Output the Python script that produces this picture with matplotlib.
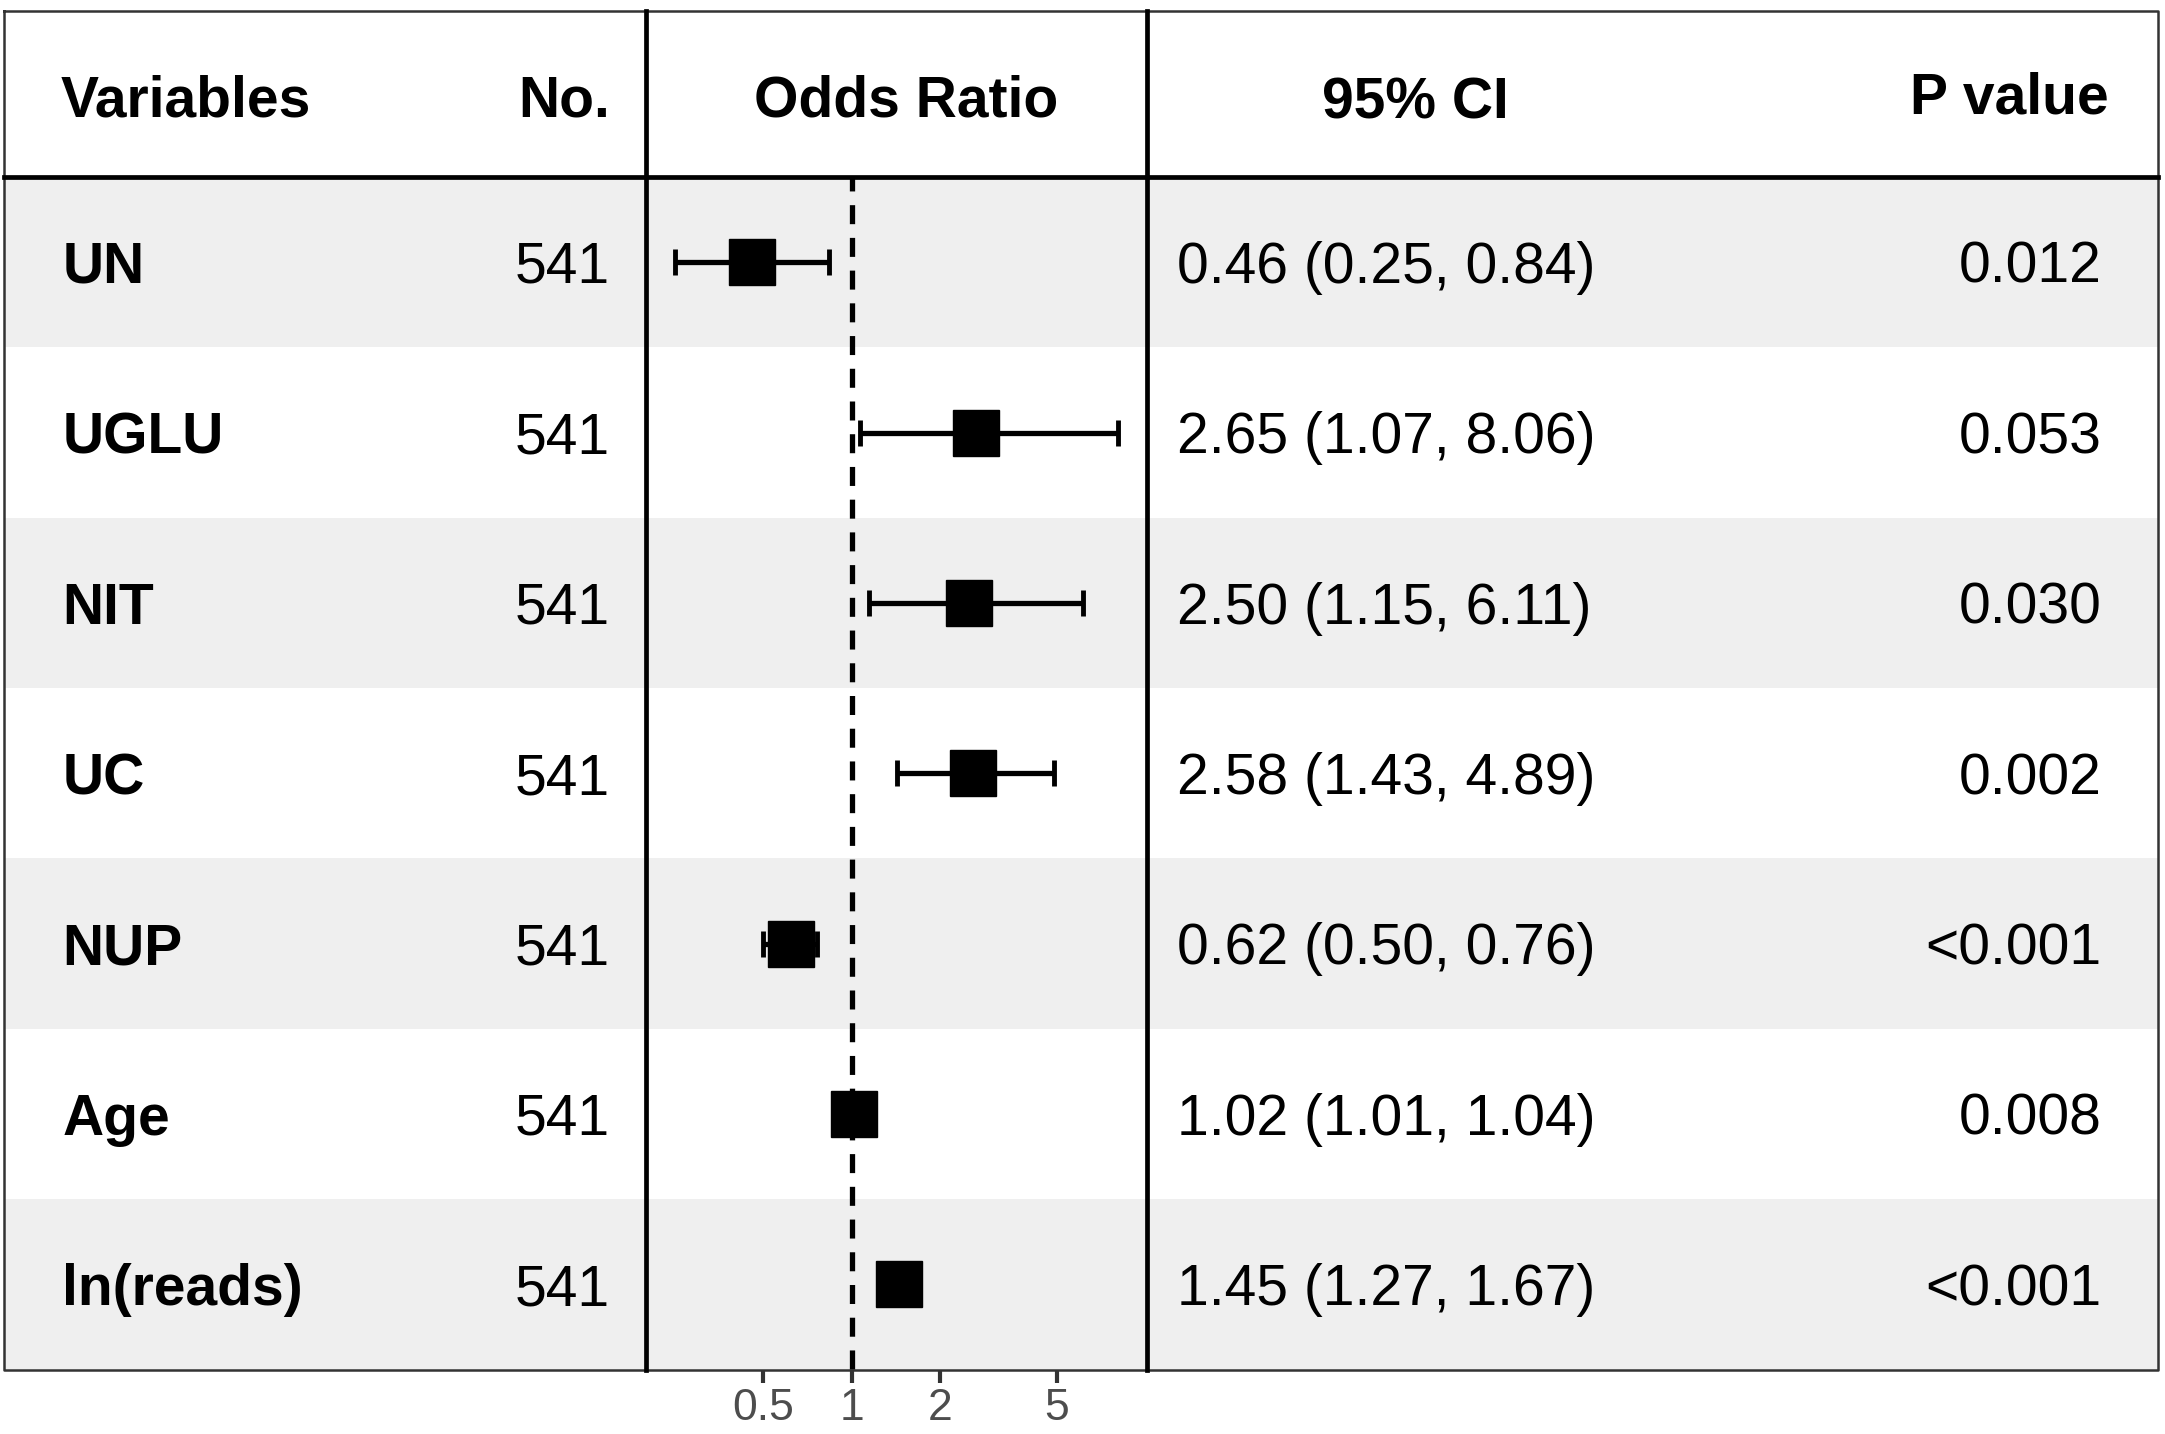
import matplotlib
matplotlib.use("Agg")
import matplotlib.pyplot as plt
import numpy as np

plt.rcParams['font.family'] = ['Liberation Sans', 'DejaVu Sans']

# data
variables = ['UN', 'UGLU', 'NIT', 'UC', 'NUP', 'Age', 'ln(reads)']
n_obs = [541, 541, 541, 541, 541, 541, 541]
odds = [0.46, 2.65, 2.50, 2.58, 0.62, 1.02, 1.45]
ci_low = [0.25, 1.07, 1.15, 1.43, 0.50, 1.01, 1.27]
ci_high = [0.84, 8.06, 6.11, 4.89, 0.76, 1.04, 1.67]
p_text = ['0.012', '0.053', '0.030', '0.002', '<0.001', '0.008', '<0.001']
x_ticks = [0.5, 1, 2, 5]
x_tick_labels = ['0.5', '1', '2', '5']

# layout in a 1565 x 1036.6 reference grid
W, H = 1565.0, 1036.6
TOP, HEAD, BOT = 8, 128, 990
LEFT, RIGHT = 3, 1560
V1, V2 = 467, 829
n_rows = len(variables)
row_h = (BOT - HEAD) / n_rows
band = '#EFEFEF'
fs = 41


def rect(x0, y0, x1, y1):
    return [x0 / W, 1 - y1 / H, (x1 - x0) / W, (y1 - y0) / H]


fig = plt.figure(figsize=(21.65, 14.34), dpi=100)

ax = fig.add_axes(rect(LEFT, TOP, RIGHT, BOT))
ax.set_xlim(LEFT, RIGHT)
ax.set_ylim(BOT, TOP)
ax.axis('off')

for i in range(n_rows):
    y0 = HEAD + i * row_h
    if i % 2 == 0:
        ax.add_patch(plt.Rectangle((LEFT, y0), RIGHT - LEFT, row_h,
                                   facecolor=band, edgecolor='none', zorder=0))

# header
ax.text(44, 84, 'Variables', fontsize=fs, fontweight='bold', ha='left', va='baseline')
ax.text(441, 84, 'No.', fontsize=fs, fontweight='bold', ha='right', va='baseline')
ax.text(655, 84, 'Odds Ratio', fontsize=fs, fontweight='bold', ha='center', va='baseline')
ax.text(1023, 86, '95% CI', fontsize=fs, fontweight='bold', ha='center', va='baseline')
ax.text(1524, 82, 'P value', fontsize=fs, fontweight='bold', ha='right', va='baseline')

# rows
for i in range(n_rows):
    yb = HEAD + (i + 0.5) * row_h + 15
    ax.text(45, yb, variables[i], fontsize=fs, fontweight='bold', ha='left', va='baseline')
    ax.text(441, yb, str(n_obs[i]), fontsize=fs, ha='right', va='baseline')
    ci = '%.2f (%.2f, %.2f)' % (odds[i], ci_low[i], ci_high[i])
    ax.text(851, yb, ci, fontsize=fs, ha='left', va='baseline')
    ax.text(1519, yb, p_text[i], fontsize=fs, ha='right', va='baseline')

# table lines
ax.plot([LEFT, RIGHT, RIGHT, LEFT, LEFT], [TOP, TOP, BOT, BOT, TOP],
        color='#333333', lw=1.8, zorder=5, clip_on=False)
ax.plot([LEFT, RIGHT], [HEAD, HEAD], color='black', lw=3.4, zorder=5, clip_on=False)
for xv in (V1, V2):
    ax.plot([xv, xv], [TOP, BOT], color='black', lw=3.4, zorder=5, clip_on=False)

# forest panel
fax = fig.add_axes(rect(V1, HEAD, V2, BOT))
fax.patch.set_visible(False)
fax.set_xscale('log')
fax.set_xlim(0.2, 10.1)
fax.set_ylim(n_rows, 0)
ypos = np.arange(n_rows) + 0.5

fax.axvline(1, color='black', lw=3.8, linestyle=(6, (3.6, 2.6)), zorder=1)
odds_a = np.array(odds)
xerr = [odds_a - np.array(ci_low), np.array(ci_high) - odds_a]
fax.errorbar(odds_a, ypos, xerr=xerr, fmt='none', ecolor='black',
             elinewidth=3.8, capsize=9.5, capthick=3.5, zorder=2)
fax.plot(odds_a, ypos, 's', ms=33, color='black', zorder=3)

for s in fax.spines.values():
    s.set_visible(False)
fax.set_yticks([])
fax.set_xticks(x_ticks)
fax.set_xticklabels(x_tick_labels)
fax.minorticks_off()
fax.tick_params(axis='x', length=9, width=3, color='#333333',
                labelcolor='#4D4D4D', labelsize=32, pad=4)

fig.savefig('out.png', dpi=100, facecolor='white')
